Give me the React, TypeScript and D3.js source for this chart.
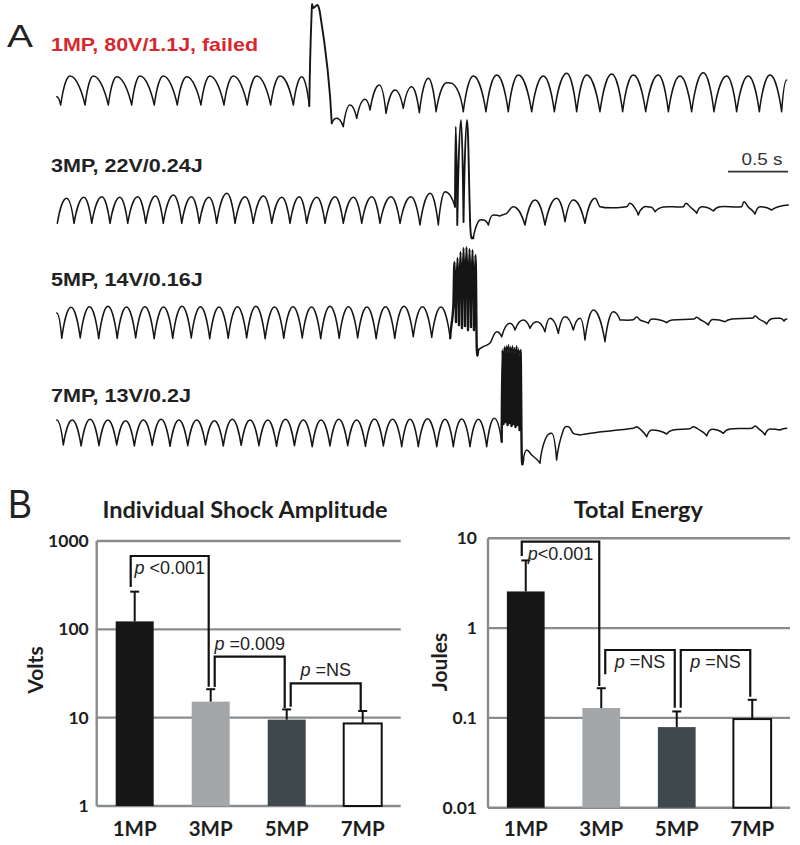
import React, { useEffect, useRef } from "react";
import * as d3 from "d3";

type Pt = [number, number];

// Panel A: ECG-like traces, time in s, amplitude in mV
const traceNames = ["1MP, 80V/1.1J, failed", "3MP, 22V/0.24J", "5MP, 14V/0.16J", "7MP, 13V/0.2J"];

const trace1MP: Pt[] = [
  [0.006, -0.67], [0.039, -1.5], [0.117, 1.4], [0.242, -1.5], [0.311, 1.4], [0.436, -1.5], [0.506, 1.33],
  [0.631, -1.5], [0.7, 1.4], [0.819, -1.5], [0.894, 1.4], [1.011, -1.5], [1.089, 1.33], [1.208, -1.5],
  [1.283, 1.4], [1.4, -1.5], [1.478, 1.4], [1.594, -1.5], [1.673, 1.4], [1.789, -1.5], [1.867, 1.4],
  [1.978, -1.5], [2.048, 1.33], [2.111, -1.6], [2.131, 8.0], [2.142, 8.2], [2.2, 7.7], [2.298, -3.33],
  [2.339, -2.83], [2.394, -3.67], [2.45, -1.5], [2.506, -2.83], [2.575, -0.93], [2.617, -2.0], [2.694, 0.5],
  [2.75, -2.33], [2.825, 0], [2.894, -1.83], [2.964, 0.33], [3.028, -2.27], [3.103, 1.17], [3.167, -2.17],
  [3.256, 0.73], [3.339, 0.17], [3.394, -2.17], [3.478, 1.4], [3.583, -2.17], [3.673, 1.5], [3.769, -2.17],
  [3.853, 1.5], [3.964, -2.17], [4.061, 1.4], [4.153, -2.17], [4.256, 1.67], [4.339, -2.17], [4.422, 1.5],
  [4.533, -2.17], [4.631, 1.6], [4.722, -2.17], [4.811, 1.5], [4.914, -2.17], [5.019, 1.5], [5.103, -2.17],
  [5.2, 1.4], [5.297, -2.17], [5.394, 1.73], [5.483, -2.17], [5.589, 1.4], [5.672, -2.17], [5.769, 1.4],
  [5.861, -2.17], [5.95, 1.5], [6.047, -2.17], [6.089, 1.0],
];

const trace3MP: Pt[] = [
  [0.011, -1.33], [0.088, 1.17], [0.15, -1.33], [0.232, 1.27], [0.298, -1.33], [0.382, 1.33], [0.45, -1.33],
  [0.532, 1.27], [0.598, -1.33], [0.681, 1.33], [0.748, -1.33], [0.829, 1.4], [0.894, -1.33], [0.979, 1.5],
  [1.048, -1.33], [1.129, 1.33], [1.194, -1.33], [1.275, 1.27], [1.339, -1.33], [1.424, 1.67], [1.492, -1.33],
  [1.576, 1.33], [1.644, -1.33], [1.729, 1.4], [1.798, -1.33], [1.882, 1.27], [1.95, -1.33], [2.028, 1.33],
  [2.089, -1.33], [2.174, 1.27], [2.242, -1.33], [2.326, 1.33], [2.394, -1.33], [2.479, 1.27], [2.548, -1.33],
  [2.632, 1.33], [2.7, -1.33], [2.792, 1.33], [2.867, -1.33], [2.958, 1.33], [3.033, -1.5], [3.118, 1.67],
  [3.186, -1.5], [3.242, 1.83],
  [3.325, 0.33], [3.331, 8.33], [3.344, -1.5], [3.375, 9.0], [3.396, -1.2], [3.425, 9.0], [3.453, -1.8],
  [3.478, -2.83], [3.519, -1.17], [3.561, -1.0], [3.603, -1.5], [3.644, -0.5], [3.7, -0.6], [3.756, -0.33],
  [3.811, 0.33], [3.908, -1.5], [3.992, 1.0], [4.075, -1.5], [4.172, 1.17], [4.242, -1.17], [4.311, 1.0],
  [4.408, -1.33], [4.492, 1.17], [4.533, 0.33],
  [4.756, 0.33], [4.783, 0.67], [4.817, 0.33], [4.852, -0.5], [4.894, 0.27], [4.95, 0.3], [4.992, -0.17],
  [5.061, 0.3], [5.228, 0.33], [5.25, 0.67], [5.283, 0.33], [5.339, -0.33], [5.381, 0.33], [5.478, -0.1],
  [5.533, 0.33], [5.714, 0.33], [5.733, 0.83], [5.767, 0.33], [5.825, -0.4], [5.867, 0.33], [5.964, 0],
  [6.019, 0.33], [6.103, 0.5],
];

const trace5MP: Pt[] = [
  [0.006, 0.9], [0.048, -1.63], [0.125, 1.47], [0.202, -1.6], [0.279, 1.53], [0.356, -1.67], [0.433, 1.57],
  [0.51, -1.63], [0.587, 1.5], [0.664, -1.6], [0.741, 1.53], [0.818, -1.67], [0.896, 1.5], [0.973, -1.63],
  [1.05, 1.57], [1.127, -1.6], [1.204, 1.53], [1.281, -1.67], [1.358, 1.5], [1.435, -1.63], [1.512, 1.53],
  [1.589, -1.6], [1.666, 1.57], [1.743, -1.67], [1.821, 1.5], [1.898, -1.63], [1.975, 1.53], [2.052, -1.6],
  [2.129, 1.5], [2.206, -1.67], [2.283, 1.57], [2.36, -1.63], [2.437, 1.53], [2.514, -1.6], [2.591, 1.5],
  [2.668, -1.67], [2.746, 1.53], [2.823, -1.63], [2.9, 1.57], [2.977, -1.47], [3.054, 1.53], [3.131, -1.53],
  [3.208, 1.5], [3.285, -1.63],
  [3.311, 1.53], [3.321, 6.0], [3.333, 0], [3.346, 6.4], [3.358, -0.3], [3.371, 7.0], [3.383, -0.6],
  [3.396, 7.4], [3.408, -0.4], [3.421, 7.5], [3.433, -0.8], [3.446, 7.3], [3.458, -0.5], [3.471, 7.2],
  [3.483, -0.8], [3.496, 6.7], [3.506, -2.5], [3.519, -2.8],
  [3.561, -2.47], [3.617, -2.1], [3.672, -0.97], [3.714, -1.47], [3.783, -0.13], [3.825, -0.8], [3.894, 0.2],
  [3.95, -0.63], [4.006, 0.03], [4.075, -0.97], [4.117, 0.37], [4.186, -1.13], [4.242, 0.53], [4.311, -0.8],
  [4.367, 0.37], [4.408, -1.8], [4.478, 1.2], [4.575, -1.97], [4.644, 1.03], [4.7, 0.2],
  [4.811, 0.22], [4.839, 0.5], [4.867, 0.2], [4.936, -0.13], [4.967, 0.3], [5.033, 0.2], [5.089, -0.07],
  [5.133, 0.2], [5.317, 0.3], [5.339, 0.47], [5.367, 0.25], [5.436, -0.3], [5.475, 0.25], [5.575, 0.03],
  [5.633, 0.3], [5.808, 0.4], [5.825, 0.6], [5.858, 0.3], [5.922, -0.2], [5.958, 0.3], [6.033, 0.37],
  [6.067, 0.1], [6.089, 0.3],
];

const trace7MP: Pt[] = [
  [0.006, 1.2], [0.061, -1.3], [0.135, 1.2], [0.209, -1.4], [0.284, 1.27], [0.358, -1.37], [0.432, 1.2],
  [0.506, -1.3], [0.58, 1.13], [0.653, -1.4], [0.728, 1.2], [0.802, -1.33], [0.876, 1.27], [0.95, -1.43],
  [1.024, 1.2], [1.098, -1.37], [1.172, 1.2], [1.246, -1.3], [1.32, 1.13], [1.394, -1.4], [1.469, 1.27],
  [1.543, -1.33], [1.617, 1.2], [1.691, -1.37], [1.765, 1.2], [1.838, -1.43], [1.913, 1.27], [1.987, -1.37],
  [2.061, 1.2], [2.135, -1.47], [2.209, 1.2], [2.283, -1.4], [2.357, 1.27], [2.431, -1.37], [2.505, 1.2],
  [2.579, -1.43], [2.654, 1.3], [2.728, -1.4], [2.805, 1.27], [2.881, -1.47], [2.95, 1.27], [3.019, -1.47],
  [3.096, 1.33], [3.173, -1.47], [3.242, 1.27], [3.311, -1.47], [3.381, 1.3], [3.45, -1.47], [3.52, 1.27],
  [3.589, -1.47], [3.652, 1.37], [3.714, -0.97],
  [3.721, 8.2], [3.729, 0.8], [3.738, 8.5], [3.746, 1.0], [3.754, 8.6], [3.763, 0.7], [3.771, 8.7],
  [3.779, 0.9], [3.788, 8.5], [3.796, 0.6], [3.804, 8.6], [3.813, 0.8], [3.821, 8.4], [3.829, 0.5],
  [3.838, 8.6], [3.846, 0.7], [3.854, 8.3], [3.863, 0.2], [3.871, 8.2], [3.881, -2.2],
  [3.894, -2.8], [3.922, -1.8], [3.964, -2.3], [4.033, -3.13], [4.075, -0.8], [4.131, -0.13], [4.172, -2.8],
  [4.228, 0.2], [4.269, 0.53], [4.311, -0.13], [4.367, -0.3], [4.811, 0.37], [4.839, 0.53], [4.867, 0.3],
  [4.922, -0.47], [4.967, 0.2], [5.089, -0.2], [5.142, 0.2], [5.283, 0.33], [5.311, 0.53], [5.35, 0.3],
  [5.422, -0.4], [5.467, 0.27], [5.561, -0.13], [5.617, 0.3], [5.8, 0.37], [5.825, 0.6], [5.858, 0.3],
  [5.908, -0.3], [5.95, 0.3], [6.033, 0.2], [6.089, 0.37],
];

const traces = [trace1MP, trace3MP, trace5MP, trace7MP];
const scaleBarSeconds = 0.5;

// Panel B
const groups = ["1MP", "3MP", "5MP", "7MP"];
const voltsMean = [123, 15.2, 9.5, 8.6];
const voltsSD = [144, 5.8, 2.9, 3.3];
const joulesMean = [2.56, 0.129, 0.079, 0.097];
const joulesSD = [3.11, 0.085, 0.039, 0.062];
const voltTicks = [1, 10, 100, 1000];
const jouleTicks = [0.01, 0.1, 1, 10];

const pairs = [[0, 1], [1, 2], [2, 3]];
const voltPText = [" <0.001", " =0.009", " =NS"];
const voltBracketTop = [676, 49, 24.5];
const voltBracketLeftEnd = [301, 22.2, 13.3];
const voltBracketRightEnd = [22.4, 12.9, 12.2];
const joulePText = ["<0.001", " =NS", " =NS"];
const jouleBracketTop = [9.16, 0.57, 0.57];
const jouleBracketLeftEnd = [6.35, 0.306, 0.13];
const jouleBracketRightEnd = [0.226, 0.13, 0.172];

const barFill = ["#161616", "#a4a7a9", "#3f494d", "#ffffff"];

function splitAtMinima(pts: Pt[]): Pt[][] {
  const pieces: Pt[][] = [];
  let cur: Pt[] = [pts[0]];
  for (let i = 1; i < pts.length; i++) {
    cur.push(pts[i]);
    const isMin = i < pts.length - 1 && pts[i][1] < pts[i - 1][1] && pts[i][1] < pts[i + 1][1];
    if (isMin) {
      pieces.push(cur);
      cur = [pts[i]];
    }
  }
  if (cur.length > 1) pieces.push(cur);
  return pieces;
}

// curve for the beats: round tops, sharp notches at the troughs
function archCurve(context: any) {
  let pts: number[][] = [];
  const kind = (j: number) => {
    const yj = pts[j][1];
    const prev = j > 0 ? pts[j - 1][1] : null;
    const next = j < pts.length - 1 ? pts[j + 1][1] : null;
    if ((prev === null || yj < prev) && (next === null || yj < next)) return "top";
    if ((prev === null || yj > prev) && (next === null || yj > next)) return "notch";
    return "mid";
  };
  const handle = (j: number, other: number) => {
    const [xj, yj] = pts[j];
    const [xo, yo] = pts[other];
    const dx = xo - xj;
    const k = kind(j);
    if (k === "top") return [xj + 0.42 * dx, yj];
    if (k === "notch") return [xj + 0.2 * dx, yj + 0.45 * (yo - yj)];
    const a = pts[Math.max(0, j - 1)], b = pts[Math.min(pts.length - 1, j + 1)];
    const s = b[0] === a[0] ? 0 : (b[1] - a[1]) / (b[0] - a[0]);
    return [xj + dx / 3, yj + (s * dx) / 3];
  };
  return {
    areaStart() {},
    areaEnd() {},
    lineStart() { pts = []; },
    point(x: number, y: number) { pts.push([+x, +y]); },
    lineEnd() {
      if (!pts.length) return;
      context.moveTo(pts[0][0], pts[0][1]);
      for (let i = 1; i < pts.length; i++) {
        const c1 = handle(i - 1, i);
        const c2 = handle(i, i - 1);
        context.bezierCurveTo(c1[0], c1[1], c2[0], c2[1], pts[i][0], pts[i][1]);
      }
    },
  };
}

function drawBarChart(svg: any, o: any) {
  const x = d3.scaleBand().domain(groups).range([o.x0, o.x1]).paddingInner(0.5).paddingOuter(0.25);
  const y = d3.scaleLog().domain(o.domain).range([o.yBottom, o.yTop]);
  const g = svg.append("g");
  const cx = (i: number) => (x(groups[i]) as number) + x.bandwidth() / 2;

  g.selectAll("line.grid").data(o.ticks).join("line")
    .attr("x1", o.x0).attr("x2", o.x1)
    .attr("y1", (d: number) => y(d)).attr("y2", (d: number) => y(d))
    .attr("stroke", "#898c8e").attr("stroke-width", 2.4);
  g.append("line")
    .attr("x1", o.x0).attr("x2", o.x0)
    .attr("y1", y(o.domain[0])).attr("y2", y(o.domain[1]))
    .attr("stroke", "#898c8e").attr("stroke-width", 2.4);

  g.selectAll("text.tick").data(o.ticks).join("text")
    .attr("x", o.x0 - o.tickGap).attr("y", (d: number) => y(d) + 6)
    .attr("text-anchor", "end")
    .attr("font-family", "Lato").attr("font-weight", 700).attr("font-size", 17.5).attr("fill", "#1e1e1e")
    .text((d: number) => String(d));

  g.selectAll("rect").data(o.mean).join("rect")
    .attr("x", (_: number, i: number) => x(groups[i]))
    .attr("width", x.bandwidth())
    .attr("y", (d: number) => y(d))
    .attr("height", (d: number) => y(o.domain[0]) - y(d))
    .attr("fill", (_: number, i: number) => barFill[i])
    .attr("stroke", (_: number, i: number) => (i === 3 ? "#111" : "none"))
    .attr("stroke-width", 2);

  o.mean.forEach((m: number, i: number) => {
    const top = y(m + o.sd[i]);
    g.append("line").attr("x1", cx(i)).attr("x2", cx(i)).attr("y1", y(m)).attr("y2", top)
      .attr("stroke", "#111").attr("stroke-width", 2);
    g.append("line").attr("x1", cx(i) - 4.5).attr("x2", cx(i) + 4.5).attr("y1", top).attr("y2", top)
      .attr("stroke", "#111").attr("stroke-width", 2);
  });

  g.selectAll("text.cat").data(groups).join("text")
    .attr("x", (_: string, i: number) => cx(i)).attr("y", 836)
    .attr("text-anchor", "middle")
    .attr("font-family", "Lato").attr("font-weight", 700).attr("font-size", 20.5).attr("fill", "#1e1e1e")
    .text((d: string) => d);

  pairs.forEach(([a, b], k) => {
    const xl = cx(a) + (k === 0 ? -4 : 4);
    const xr = cx(b) - 2;
    const yt = y(o.top[k]);
    g.append("path")
      .attr("d", `M${xl},${y(o.leftEnd[k])}V${yt}H${xr}V${y(o.rightEnd[k])}`)
      .attr("fill", "none").attr("stroke", "#111").attr("stroke-width", 2.2);
    const t = g.append("text")
      .attr("x", (xl + xr) / 2)
      .attr("y", o.above[k] ? yt - 7 : yt + 18)
      .attr("text-anchor", "middle")
      .attr("font-family", "Liberation Sans").attr("font-size", 18).attr("fill", "#222");
    t.append("tspan").attr("font-style", "italic").text("p");
    t.append("tspan").text(o.pText[k]);
  });

  svg.append("text")
    .attr("x", (o.x0 + o.x1) / 2 - o.titleShift).attr("y", 518)
    .attr("text-anchor", "middle")
    .attr("font-family", "Lato").attr("font-weight", 700).attr("font-size", 23.5).attr("fill", "#1e1e1e")
    .text(o.title);
  svg.append("text")
    .attr("transform", `translate(${o.labelX},${o.labelY}) rotate(-90)`)
    .attr("text-anchor", "middle")
    .attr("font-family", "Lato").attr("font-weight", 700).attr("font-size", 21).attr("fill", "#1e1e1e")
    .text(o.yLabel);
}

export default function App() {
  const ref = useRef<SVGSVGElement>(null);

  useEffect(() => {
    const svg = d3.select(ref.current);
    svg.selectAll("*").remove();

    // panel A
    const x = d3.scaleLinear().domain([0, 6.1]).range([56, 788]);
    const rowY0 = [90, 210, 322, 432];
    const labelY = [51, 171.7, 286, 401.7];
    const labelLen = [207, 151.7, 151.7, 140];

    traces.forEach((tr, i) => {
      const y = d3.scaleLinear().domain([-1, 1]).range([rowY0[i] + 10, rowY0[i] - 10]);
      const line = d3.line<Pt>().x(d => x(d[0])).y(d => y(d[1])).curve(archCurve as any);
      const pieces = splitAtMinima(tr);
      // the shock bursts are drawn heavier so the dense spikes merge like in the print
      const isBurst = (p: Pt[]) => d3.max(p, q => q[1])! > 4;
      svg.append("path").attr("d", pieces.filter(p => !isBurst(p)).map(p => line(p)).join(""))
        .attr("fill", "none").attr("stroke", "#151515").attr("stroke-width", 1.5)
        .attr("stroke-linecap", "round").attr("stroke-linejoin", "round");
      svg.append("path").attr("d", pieces.filter(isBurst).map(p => line(p)).join(""))
        .attr("fill", "none").attr("stroke", "#151515").attr("stroke-width", i >= 2 ? 2.4 : 1.9)
        .attr("stroke-linecap", "round").attr("stroke-linejoin", "round");
      svg.append("text")
        .attr("x", 51).attr("y", labelY[i])
        .attr("font-family", "Liberation Sans").attr("font-weight", 700).attr("font-size", 18.5)
        .attr("textLength", labelLen[i]).attr("lengthAdjust", "spacingAndGlyphs")
        .attr("fill", i === 0 ? "#d7282f" : "#222")
        .text(traceNames[i]);
    });

    const yBar = d3.scaleLinear().domain([-1, 1]).range([rowY0[1] + 10, rowY0[1] - 10]);
    const tEnd = x.domain()[1];
    svg.append("line")
      .attr("x1", x(tEnd - scaleBarSeconds)).attr("x2", x(tEnd))
      .attr("y1", yBar(3.83)).attr("y2", yBar(3.83))
      .attr("stroke", "#333").attr("stroke-width", 1.8);
    svg.append("text")
      .attr("x", x(tEnd - scaleBarSeconds / 2) + 4).attr("y", 165)
      .attr("text-anchor", "middle")
      .attr("font-family", "Liberation Sans").attr("font-size", 16)
      .attr("textLength", 41).attr("lengthAdjust", "spacingAndGlyphs")
      .attr("fill", "#333")
      .text(`${scaleBarSeconds} s`);

    svg.append("text").attr("x", 7).attr("y", 47)
      .attr("font-family", "Liberation Sans").attr("font-size", 32)
      .attr("textLength", 26).attr("lengthAdjust", "spacingAndGlyphs").attr("fill", "#222").text("A");
    svg.append("text").attr("x", 8).attr("y", 518)
      .attr("font-family", "Liberation Sans").attr("font-size", 41)
      .attr("textLength", 24).attr("lengthAdjust", "spacingAndGlyphs").attr("fill", "#222").text("B");

    // panel B
    drawBarChart(svg, {
      x0: 96.7, x1: 400.7, yBottom: 806, yTop: 541, domain: [1, 1000], ticks: voltTicks, tickGap: 8,
      mean: voltsMean, sd: voltsSD, top: voltBracketTop, leftEnd: voltBracketLeftEnd,
      rightEnd: voltBracketRightEnd, pText: voltPText, above: [false, true, true],
      title: "Individual Shock Amplitude", titleShift: 3.7, yLabel: "Volts", labelX: 43, labelY: 670,
    });
    drawBarChart(svg, {
      x0: 488, x1: 790, yBottom: 807.7, yTop: 538.3, domain: [0.01, 10], ticks: jouleTicks, tickGap: 11,
      mean: joulesMean, sd: joulesSD, top: jouleBracketTop, leftEnd: jouleBracketLeftEnd,
      rightEnd: jouleBracketRightEnd, pText: joulePText, above: [false, false, false],
      title: "Total Energy", titleShift: 0.7, yLabel: "Joules", labelX: 447, labelY: 662,
    });
  }, []);

  return (
    <svg ref={ref} width={800} height={845}
      style={{ position: "absolute", left: 0, top: 0, background: "#fff", fontFamily: "Liberation Sans" }} />
  );
}
